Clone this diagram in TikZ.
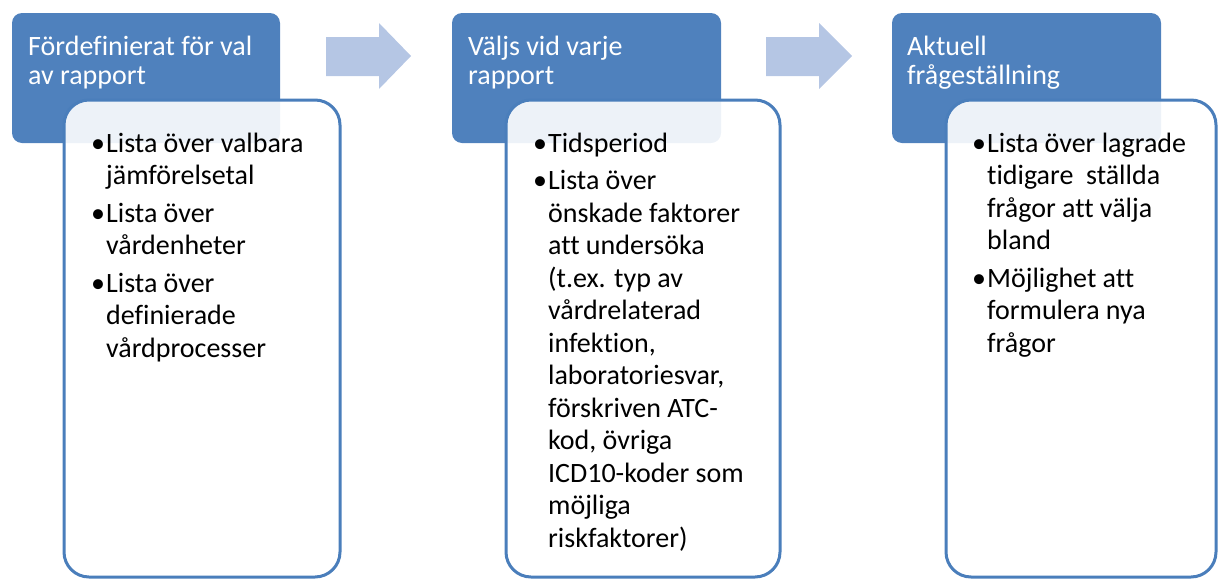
\documentclass[tikz,border=0pt]{standalone}
\usepackage{fontspec}
\setmainfont[Ligatures=CommonOff]{Carlito}
\definecolor{hdrblue}{RGB}{79,129,189}
\definecolor{edgeblue}{RGB}{74,126,187}
\definecolor{arrowblue}{RGB}{181,198,228}
\newcommand{\bodyfont}{\fontsize{28}{32.5}\selectfont}
\newcommand{\hdrfont}{\fontsize{28}{29}\selectfont}
\tikzset{
  hdrbox/.style={fill=hdrblue, draw=none, rounded corners=10pt},
  listbox/.style={fill=white, fill opacity=0.9, draw=edgeblue, draw opacity=1, line width=3pt, rounded corners=25pt},
  flowarrow/.style={fill=arrowblue, draw=none},
  hdrtext/.style={anchor=base west, inner sep=0pt, text=white, font=\hdrfont, align=left},
  bodytext/.style={anchor=base west, inner sep=0pt, text=black, font=\bodyfont}
}
\begin{document}
\begin{tikzpicture}[x=1pt,y=-1pt]
\useasboundingbox (0,0) rectangle (1219,579);
% header boxes
\path[hdrbox] (12,13) rectangle (280,143);
\path[hdrbox] (452,13) rectangle (721,143);
\path[hdrbox] (892,13) rectangle (1161,143);
% list boxes
\path[listbox] (64,100) rectangle (340,577);
\path[listbox] (506,100) rectangle (780,577);
\path[listbox] (946,100) rectangle (1216,577);
% arrows
\path[flowarrow] (326,37) -- (379,37) -- (379,23) -- (411,56) -- (379,89) -- (379,76) -- (326,76) -- cycle;
\path[flowarrow] (766,37) -- (819,37) -- (819,23) -- (852,56) -- (819,89) -- (819,76) -- (766,76) -- cycle;
% header texts (base = last line)
\node[hdrtext] (h1) at (28,84) {Fördefinierat för val\\av rapport};
\node[hdrtext] (h2) at (468,84) {Väljs vid varje\\rapport};
\node[hdrtext] (h3) at (907,84) {Aktuell\\frågeställning};
% body texts
\node[bodytext] (b1) at (91,152) {\begin{tabular}[t]{@{}l@{\hspace{1pt}}l@{}}
•&Lista över valbara\\
 &jämförelsetal\\[5pt]
•&Lista över\\
 &vårdenheter\\[5pt]
•&Lista över\\
 &definierade\\
 &vårdprocesser
\end{tabular}};
\node[bodytext] (b2) at (533,152) {\begin{tabular}[t]{@{}l@{\hspace{1pt}}l@{}}
•&Tidsperiod\\[5pt]
•&Lista över\\
 &önskade faktorer\\
 &att undersöka\\
 &(t.ex. typ av\\
 &vårdrelaterad\\
 &infektion,\\
 &laboratoriesvar,\\
 &förskriven ATC-\\
 &kod, övriga\\
 &ICD10-koder som\\
 &möjliga\\
 &riskfaktorer)
\end{tabular}};
\node[bodytext] (b3) at (972,152) {\begin{tabular}[t]{@{}l@{\hspace{1pt}}l@{}}
•&Lista över lagrade\\
 &tidigare\ \ ställda\\
 &frågor att välja\\
 &bland\\[5pt]
•&Möjlighet att\\
 &formulera nya\\
 &frågor
\end{tabular}};
\end{tikzpicture}
\end{document}
